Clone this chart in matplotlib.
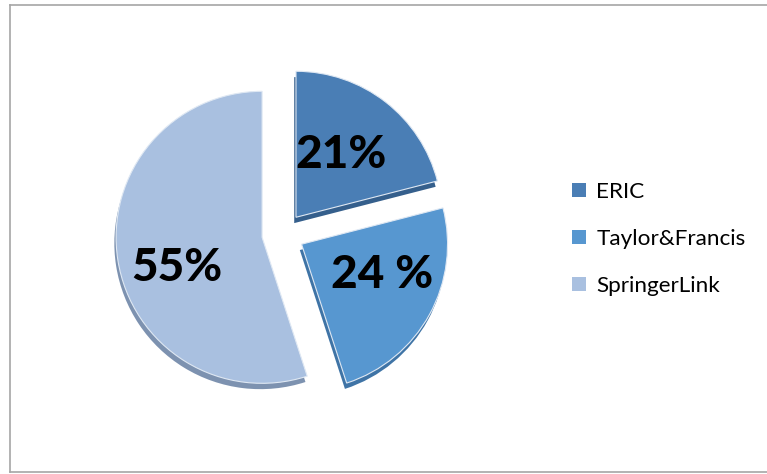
import matplotlib.pyplot as plt
from matplotlib.patches import Patch
from matplotlib.lines import Line2D

# data
sources = ['ERIC', 'Taylor&Francis', 'SpringerLink']
shares = [21, 24, 55]
pct_labels = ['21%', '24 %', '55%']

colors = ['#4a7eb5', '#5797d0', '#a9c0e0']
side_colors = ['#355f8c', '#3f74a6', '#7d92b0']

plt.rcParams['font.family'] = ['Lato', 'DejaVu Sans']

fig = plt.figure(figsize=(7.67, 4.74), dpi=100)

# pie center at about (283, 234) px, radius about 146 px
R = 146.0
L = 200.0
cx, cy = 283.0, 234.0
ax = fig.add_axes([(cx - L) / 767, (474 - cy - L) / 474, 2 * L / 767, 2 * L / 474])
lim = L / R

explode = [0.145] * len(shares)

# darker copy underneath, shifted down, as the 3d side of the slices
ax.pie(shares, explode=explode, startangle=90, counterclock=False,
       colors=side_colors, center=(-0.012, -0.04), frame=True,
       wedgeprops=dict(linewidth=0))
ax.pie(shares, explode=explode, startangle=90, counterclock=False,
       colors=colors, frame=True,
       wedgeprops=dict(linewidth=0.8, edgecolor='#dfe8f3'))
ax.set_xlim(-lim, lim)
ax.set_ylim(-lim, lim)
ax.axis('off')

label_pos = [(0.40, 0.54), (0.68, -0.28), (-0.73, -0.23)]
for txt, (x, y) in zip(pct_labels, label_pos):
    ax.text(x, y, txt, ha='center', va='center', fontsize=33,
            fontweight='black', color='black')

handles = [Patch(facecolor=c, edgecolor='none') for c in colors]
fig.legend(handles, sources, loc='center left',
           bbox_to_anchor=(552 / 767, 1 - 239 / 474), frameon=False,
           fontsize=16.2, handlelength=0.62, handleheight=0.62,
           handletextpad=0.45, labelspacing=1.2)

# outer border (left, top, bottom)
for xs, ys in [([10, 10], [5, 472]), ([10, 767], [5, 5]), ([10, 767], [472, 472])]:
    fig.add_artist(Line2D([x / 767 for x in xs], [1 - y / 474 for y in ys],
                          color='#a6a6a6', linewidth=1.2))

fig.savefig('out.png', dpi=100)
